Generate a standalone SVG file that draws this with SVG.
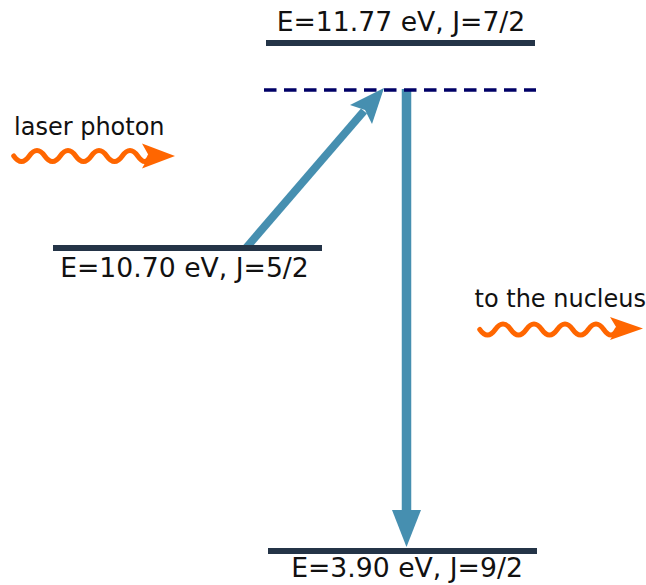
<svg xmlns="http://www.w3.org/2000/svg" width="646" height="585" viewBox="0 0 646 585">
<style>
.lvl{stroke:#243447;stroke-width:6;fill:none}
.virt{stroke:#000066;stroke-width:3.5;stroke-dasharray:12.5 7.5;fill:none}
.tr{stroke:#468fb0;fill:none}
.trh{fill:#468fb0}
.wave{stroke:#ff6600;stroke-width:5;fill:none;stroke-linecap:round}
.waveh{fill:#ff6600}
.big{font-family:"DejaVu Sans",Verdana,sans-serif;font-size:26.67px;fill:#111}
.small{font-family:"DejaVu Sans",Verdana,sans-serif;font-size:24px;fill:#111}
</style>
<rect width="646" height="585" fill="#fff"/>
<g id="connectors">
  <line class="tr" x1="246" y1="248" x2="364" y2="111" style="stroke-width:8"/>
  <polygon class="trh" points="384,88 350,105 365,110 372,124"/>
  <line class="tr" x1="406.5" y1="89" x2="406.5" y2="515" style="stroke-width:9.5"/>
  <polygon class="trh" points="392,510 421,510 406.5,547"/>
</g>
<g id="level-top">
  <line class="lvl" x1="266" y1="43" x2="535" y2="43"/>
  <text class="big" x="401" y="31" text-anchor="middle">E=11.77 eV, J=7/2</text>
</g>
<g id="level-virtual">
  <line class="virt" x1="264" y1="90" x2="536" y2="90"/>
</g>
<g id="level-mid">
  <line class="lvl" x1="53" y1="248" x2="322" y2="248"/>
  <text class="big" x="184.5" y="277" text-anchor="middle">E=10.70 eV, J=5/2</text>
</g>
<g id="level-bottom">
  <line class="lvl" x1="268" y1="551" x2="537" y2="551"/>
  <text class="big" x="407" y="577" text-anchor="middle">E=3.90 eV, J=9/2</text>
</g>
<g id="laser-photon">
  <text class="small" x="14" y="135">laser photon</text>
  <path class="wave" d="M13.75,156 Q21.5,167 29.25,156 T44.75,156 T60.25,156 T75.75,156 T91.25,156 T106.75,156 T122.25,156 T137.75,156 T150,156"/>
  <polygon class="waveh" points="175,156 142,143.5 149,156 142,168.5"/>
</g>
<g id="nucleus-photon">
  <text class="small" x="474.5" y="307">to the nucleus</text>
  <path class="wave" d="M479.75,329.5 Q487.5,340.5 495.25,329.5 T510.75,329.5 T526.25,329.5 T541.75,329.5 T557.25,329.5 T572.75,329.5 T588.25,329.5 T603.75,329.5 T617,329.5"/>
  <polygon class="waveh" points="643,328.5 610,317 617,328.5 610,340"/>
</g>
</svg>
